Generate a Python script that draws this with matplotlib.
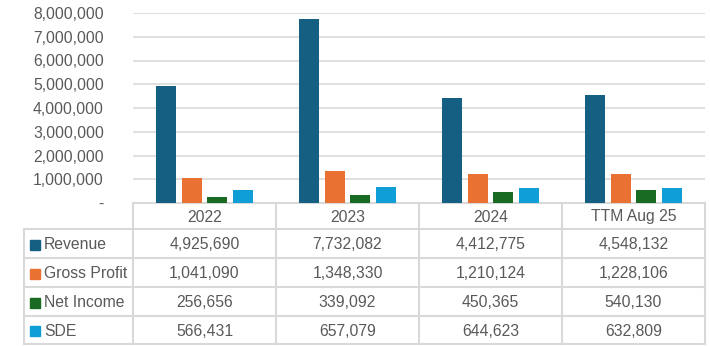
import numpy as np
import matplotlib
matplotlib.use('Agg')
import matplotlib.pyplot as plt
from matplotlib.ticker import FuncFormatter

categories = ['2022', '2023', '2024', 'TTM Aug 25']
series = ['Revenue', 'Gross Profit', 'Net Income', 'SDE']
revenue      = [4925690, 7732082, 4412775, 4548132]
gross_profit = [1041090, 1348330, 1210124, 1228106]
net_income   = [256656, 339092, 450365, 540130]
sde          = [566431, 657079, 644623, 632809]
values = [revenue, gross_profit, net_income, sde]
colors = ['#156082', '#E97132', '#196B24', '#0F9ED5']

TEXT = '#595959'
GRID = '#d9d9d9'
W, H = 710, 346
plt.rcParams['font.family'] = ['Liberation Sans', 'DejaVu Sans']
FS = 11.3

fig = plt.figure(figsize=(W / 100, H / 100), dpi=100)

# chart area in pixel coords
x0, x1, ytop, ybase = 133, 705, 13, 203
ax = fig.add_axes([x0 / W, (H - ybase) / H, (x1 - x0) / W, (ybase - ytop) / H])

x = np.arange(len(categories))
step, width = 0.18, 0.14
offsets = (np.arange(len(series)) - 1.5) * step
for vals, off, c in zip(values, offsets, colors):
    ax.bar(x + off, vals, width=width, color=c, zorder=3)

ax.set_xlim(-0.5, len(categories) - 0.5)
ax.set_ylim(0, 8000000)
ax.set_yticks(np.arange(0, 8000001, 1000000))
ax.yaxis.set_major_formatter(FuncFormatter(lambda v, _: '-' if v == 0 else f'{int(v):,}'))
ax.tick_params(axis='y', length=0, pad=21, labelsize=FS, labelcolor=TEXT)
ax.set_xticks([])
ax.grid(axis='y', color=GRID, linewidth=1.2, zorder=0)
for s in ax.spines.values():
    s.set_visible(False)
ax.patch.set_alpha(0)

# data table drawn on an overlay in pixel coordinates
tb = fig.add_axes([0, 0, 1, 1], zorder=-1)
tb.set_xlim(0, W)
tb.set_ylim(H, 0)
tb.axis('off')

col_x = [133, 276, 419, 562, 705]
row_y = [203, 229, 258, 287, 316, 344]
lab_x = 24
lw = 1.5
for cx in col_x:
    tb.plot([cx, cx], [row_y[0], row_y[-1]], color=GRID, lw=lw)
tb.plot([lab_x, lab_x], [row_y[1], row_y[-1]], color=GRID, lw=lw)
tb.plot([col_x[0], col_x[-1]], [row_y[0], row_y[0]], color=GRID, lw=lw)
for ry in row_y[1:]:
    tb.plot([lab_x, col_x[-1]], [ry, ry], color=GRID, lw=lw)

for i, cat in enumerate(categories):
    cx = (col_x[i] + col_x[i + 1]) / 2
    tb.text(cx, (row_y[0] + row_y[1]) / 2 + 1, cat, ha='center', va='center',
            fontsize=FS, color=TEXT)

for r, (name, vals, c) in enumerate(zip(series, values, colors)):
    cy = (row_y[r + 1] + row_y[r + 2]) / 2 + 1
    tb.add_patch(plt.Rectangle((30, cy - 5), 10, 10, color=c))
    tb.text(44, cy, name, ha='left', va='center', fontsize=FS, color=TEXT)
    for i, v in enumerate(vals):
        cx = (col_x[i] + col_x[i + 1]) / 2
        tb.text(cx, cy, f'{v:,}', ha='center', va='center', fontsize=FS, color=TEXT)

fig.savefig('out.png', dpi=100, facecolor='white')
